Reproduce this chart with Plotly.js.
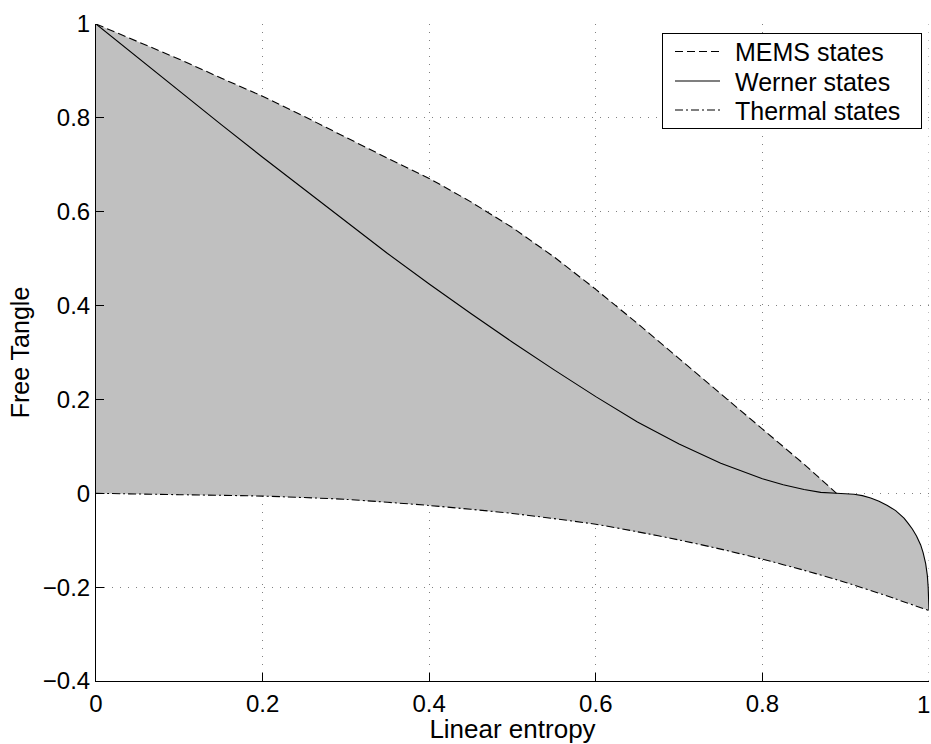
<!DOCTYPE html>
<html>
<head>
<meta charset="utf-8">
<script src="https://cdn.plot.ly/plotly-3.0.1.min.js"></script>
<style>html,body{margin:0;padding:0;background:#fff;}#chart{width:931px;height:744px;}</style>
</head>
<body>
<div id="chart"></div>
<script>
// MEMS states (upper boundary, dashed)
const memsX = [0, 0.05, 0.1, 0.15, 0.2, 0.25, 0.3, 0.35, 0.4, 0.45, 0.5, 0.55, 0.6, 0.65, 0.7, 0.75, 0.8, 0.85, 0.889];
const memsY = [1, 0.962, 0.925, 0.885, 0.846, 0.803, 0.758, 0.714, 0.671, 0.621, 0.566, 0.5035, 0.4345, 0.362, 0.287, 0.212, 0.137, 0.062, 0];

// Werner states (solid)
const wernerX = [0, 0.05, 0.1, 0.15, 0.2, 0.25, 0.3, 0.35, 0.4, 0.45, 0.5, 0.55, 0.6, 0.65, 0.7, 0.75, 0.8, 0.825, 0.85, 0.87, 0.889, 0.9, 0.91, 0.92, 0.93, 0.94, 0.95, 0.96, 0.97, 0.975, 0.98, 0.985, 0.99, 0.993, 0.996, 0.998, 0.999, 1];
const wernerY = [1, 0.928, 0.857, 0.786, 0.716, 0.647, 0.578, 0.511, 0.446, 0.383, 0.322, 0.263, 0.206, 0.152, 0.105, 0.064, 0.031, 0.018, 0.008, 0.002, 0, -0.0005, -0.002, -0.005, -0.010, -0.017, -0.026, -0.037, -0.053, -0.064, -0.076, -0.091, -0.110, -0.127, -0.150, -0.175, -0.2, -0.25];

// Thermal states (lower boundary, dash-dot)
const thermalX = [0, 0.1, 0.2, 0.3, 0.4, 0.5, 0.6, 0.65, 0.7, 0.75, 0.8, 0.85, 0.9, 0.95, 1];
const thermalY = [0, -0.003, -0.006, -0.013, -0.026, -0.043, -0.066, -0.082, -0.0995, -0.119, -0.1405, -0.164, -0.190, -0.219, -0.25];

const seriesNames = ['MEMS states', 'Werner states', 'Thermal states'];
const xTicks = [0, 0.2, 0.4, 0.6, 0.8, 1];
const yTicks = [-0.4, -0.2, 0, 0.2, 0.4, 0.6, 0.8, 1];

// Shaded region: MEMS top, then Werner beyond the MEMS end, then thermal reversed
const memsEnd = memsX[memsX.length - 1];
const polyX = [], polyY = [];
memsX.forEach((x, i) => { polyX.push(x); polyY.push(memsY[i]); });
wernerX.forEach((x, i) => { if (x > memsEnd) { polyX.push(x); polyY.push(wernerY[i]); } });
for (let i = thermalX.length - 1; i >= 0; i--) { polyX.push(thermalX[i]); polyY.push(thermalY[i]); }

const FONT = 'Liberation Sans, Arial, Helvetica, sans-serif';
const GRID_COLOR = '#808080';
const GRID_DASH = '1px,7px';

// The last x tick label sits flush against the right page edge, so it is drawn as a right-aligned annotation
const lastX = xTicks[xTicks.length - 1];
const xTickText = xTicks.map((v, i) => i === xTicks.length - 1 ? '' : String(v));

const traces = [
  { x: polyX, y: polyY, type: 'scatter', mode: 'lines', fill: 'toself',
    fillcolor: '#c0c0c0', line: { width: 0, color: '#c0c0c0' }, showlegend: false, hoverinfo: 'skip' },
  { x: memsX, y: memsY, type: 'scatter', mode: 'lines', name: seriesNames[0],
    line: { color: '#000', width: 1.1, dash: '8px,4px' } },
  { x: wernerX, y: wernerY, type: 'scatter', mode: 'lines', name: seriesNames[1],
    line: { color: '#000', width: 1.1 } },
  { x: thermalX, y: thermalY, type: 'scatter', mode: 'lines', name: seriesNames[2],
    line: { color: '#000', width: 1.1, dash: '8px,3px,2px,3px', shape: 'spline', smoothing: 0.6 } }
];

const layout = {
  width: 931, height: 744,
  margin: { l: 96, r: 2, t: 24, b: 63 },
  paper_bgcolor: '#fff', plot_bgcolor: '#fff',
  font: { family: FONT, size: 24, color: '#000' },
  showlegend: true,
  legend: {
    x: 0.99, y: 0.986, xanchor: 'right', yanchor: 'top',
    bgcolor: '#fff', bordercolor: '#000', borderwidth: 1,
    font: { family: FONT, size: 25, color: '#000' },
    tracegroupgap: 0
  },
  annotations: [{
    x: lastX, xref: 'x', y: 0, yref: 'paper', text: String(lastX),
    xanchor: 'right', yanchor: 'top', xshift: 3, yshift: -8, showarrow: false,
    font: { family: FONT, size: 24, color: '#000' }
  }],
  // grid line at the right end of the x range (Plotly omits it at the range edge)
  shapes: [{
    type: 'line', xref: 'x', yref: 'paper', x0: lastX, x1: lastX, y0: 0, y1: 1,
    layer: 'below', line: { color: GRID_COLOR, width: 1, dash: GRID_DASH }
  }],
  xaxis: {
    range: [0, 1], tickvals: xTicks, ticktext: xTickText,
    ticks: 'inside', ticklen: 8, tickcolor: '#000', tickwidth: 1,
    showline: true, linecolor: '#000', linewidth: 1,
    showgrid: true, gridcolor: GRID_COLOR, gridwidth: 1, griddash: GRID_DASH,
    zeroline: false, ticklabelstandoff: 1,
    title: { text: 'Linear entropy', font: { family: FONT, size: 26 }, standoff: 2 },
    fixedrange: true
  },
  yaxis: {
    range: [-0.4, 1], tickvals: yTicks, ticktext: yTicks.map(v => v < 0 ? '\u2212' + Math.abs(v) : String(v)),
    ticks: 'inside', ticklen: 8, tickcolor: '#000', tickwidth: 1,
    showline: true, linecolor: '#000', linewidth: 1,
    showgrid: true, gridcolor: GRID_COLOR, gridwidth: 1, griddash: GRID_DASH,
    zeroline: false, ticklabelstandoff: 0, ticklabeloverflow: 'allow',
    title: { text: 'Free Tangle', font: { family: FONT, size: 25 }, standoff: 6 },
    fixedrange: true
  }
};

const gd = document.getElementById('chart');
Plotly.newPlot(gd, traces, layout, { displayModeBar: false, staticPlot: true }).then(() => {
  // Tighten the legend box to a MATLAB-like layout
  try {
    const leg = gd.querySelector('.legend');
    if (!leg) return;
    const box = { left: 662, top: 33, width: 259, height: 95 };
    const rows = [18.5, 48, 77];
    leg.setAttribute('transform', 'translate(' + box.left + ',' + box.top + ')');
    const bg = leg.querySelector('rect.bg');
    if (bg) { bg.setAttribute('width', box.width); bg.setAttribute('height', box.height); }
    const sb = leg.querySelector('.scrollbox');
    if (sb) { sb.removeAttribute('clip-path'); sb.setAttribute('transform', 'translate(0,0)'); }
    leg.querySelectorAll('.traces').forEach((g, i) => {
      g.setAttribute('transform', 'translate(0,' + rows[i] + ')');
      g.querySelectorAll('.legendlines path').forEach(p => p.setAttribute('d', 'M13,0h45'));
      const t = g.querySelector('.legendtext');
      if (t) {
        t.setAttribute('x', 73);
        t.querySelectorAll('tspan').forEach(ts => { if (ts.hasAttribute('x')) ts.setAttribute('x', 73); });
      }
    });
  } catch (e) { /* keep default legend */ }
});
</script>
</body>
</html>
